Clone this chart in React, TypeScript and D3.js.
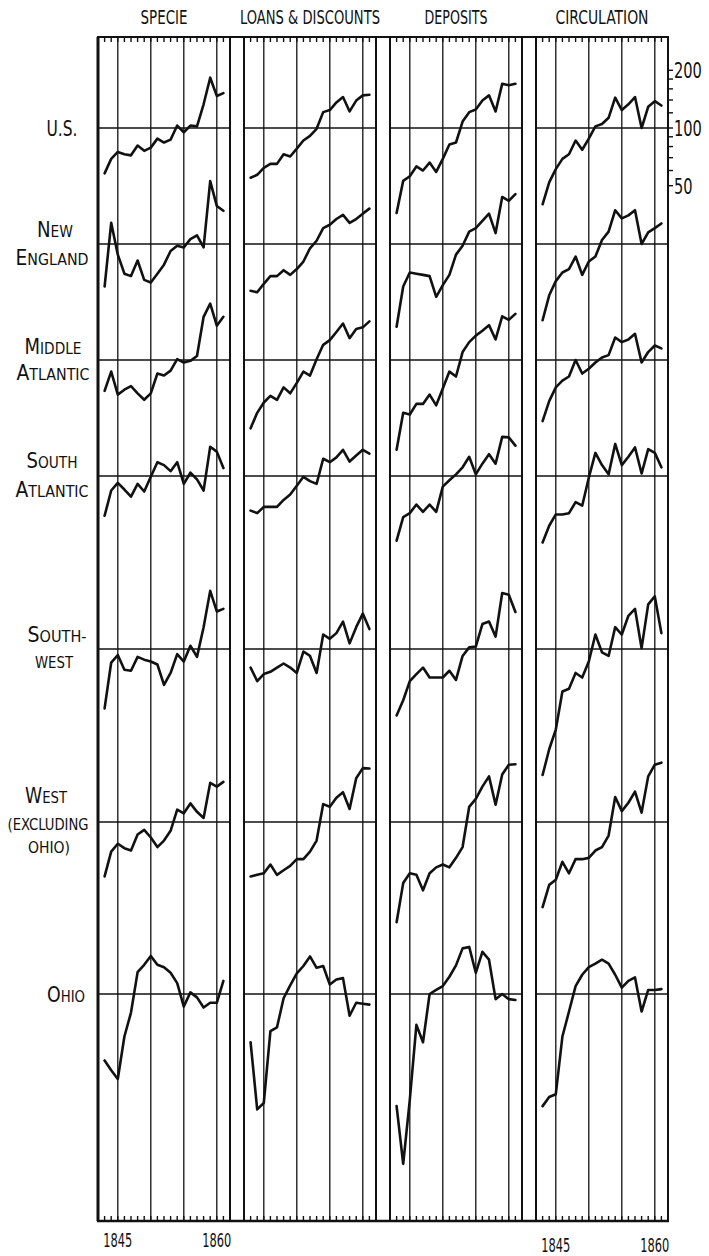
import React from "react";
import * as d3 from "d3";

// ---------- DATA ----------
const years = [1843, 1844, 1845, 1846, 1847, 1848, 1849, 1850, 1851, 1852, 1853, 1854, 1855, 1856, 1857, 1858, 1859, 1860, 1861];
const panelTitles = ["SPECIE", "LOANS & DISCOUNTS", "DEPOSITS", "CIRCULATION"];
const gridYears = [1845, 1850, 1855, 1860];
const axisTicks = [50, 60, 70, 80, 90, 100, 120, 140, 160, 180, 200];
const axisLabels = [200, 100, 50];
const yearLabels = ["1845", "1860"];

// Specie (index numbers, base 100)
const specieUS = [58, 69, 75, 73, 72, 81, 76, 79, 88, 84, 87, 103, 95, 103, 102, 133, 183, 147, 152];
const specieNE = [60, 129, 88, 70, 68, 82, 65, 63, 70, 78, 92, 98, 96, 106, 111, 96, 213, 158, 149];
const specieMA = [69, 87, 66, 70, 73, 67, 62, 67, 85, 83, 88, 101, 97, 99, 105, 168, 197, 151, 168];
const specieSA = [62, 84, 92, 85, 78, 91, 83, 99, 118, 114, 106, 118, 91, 104, 96, 84, 142, 134, 110];
const specieSW = [49, 85, 93, 78, 77, 91, 88, 86, 83, 65, 75, 94, 86, 104, 91, 130, 201, 157, 162];
const specieWest = [52, 70, 77, 73, 71, 86, 91, 83, 74, 80, 90, 116, 111, 125, 113, 105, 160, 153, 162];
const specieOhio = [45, 40, 36, 60, 80, 130, 142, 158, 142, 138, 129, 114, 86, 102, 96, 85, 90, 90, 117];

// Loans & discounts
const loansUS = [55, 57, 62, 65, 65, 73, 71, 78, 86, 91, 99, 121, 124, 136, 145, 122, 139, 148, 149];
const loansNE = [57, 56, 62, 68, 68, 73, 69, 74, 81, 95, 104, 121, 126, 135, 142, 129, 135, 144, 153];
const loansMA = [44, 53, 60, 65, 62, 72, 67, 76, 87, 83, 101, 120, 127, 140, 155, 130, 145, 148, 159];
const loansSA = [66, 64, 69, 69, 69, 75, 80, 89, 99, 94, 91, 123, 118, 125, 137, 119, 128, 137, 131];
const loansSW = [80, 68, 74, 76, 80, 84, 80, 75, 97, 92, 75, 119, 113, 121, 139, 107, 130, 153, 127];
const loansWest = [52, 53, 54, 60, 53, 56, 59, 64, 64, 70, 80, 124, 120, 134, 143, 117, 169, 191, 190];
const loansOhio = [56, 25, 27, 64, 67, 95, 111, 128, 140, 157, 137, 140, 112, 119, 121, 77, 90, 89, 88];

// Deposits
const depositsUS = [36, 53, 56, 63, 60, 66, 59, 69, 82, 84, 108, 121, 125, 139, 148, 122, 170, 167, 170];
const depositsNE = [37, 60, 71, 70, 69, 68, 53, 61, 69, 88, 98, 116, 121, 132, 144, 114, 176, 168, 182];
const depositsMA = [34, 53, 52, 59, 59, 66, 58, 71, 87, 82, 110, 124, 134, 142, 152, 128, 169, 162, 174];
const depositsSA = [46, 61, 64, 71, 65, 71, 65, 88, 95, 102, 111, 126, 102, 116, 130, 116, 160, 159, 144];
const depositsSW = [45, 54, 68, 74, 80, 71, 71, 71, 77, 69, 92, 102, 103, 135, 139, 116, 196, 192, 156];
const depositsWest = [30, 48, 54, 53, 44, 54, 58, 60, 58, 65, 74, 120, 132, 153, 173, 123, 177, 199, 200];
const depositsOhio = [26, 13, 28, 69, 56, 100, 105, 110, 123, 141, 173, 176, 129, 166, 151, 94, 100, 94, 93];

// Circulation
const circUS = [40, 52, 61, 69, 73, 86, 77, 88, 102, 105, 113, 144, 124, 133, 145, 100, 129, 138, 131];
const circNE = [40, 54, 64, 71, 74, 86, 69, 81, 86, 105, 116, 150, 136, 141, 150, 100, 115, 121, 128];
const circMA = [48, 61, 72, 78, 82, 100, 85, 90, 97, 103, 106, 131, 124, 128, 137, 97, 110, 119, 115];
const circSA = [45, 55, 63, 63, 64, 73, 70, 98, 132, 114, 102, 147, 114, 126, 141, 103, 138, 132, 111];
const circSW = [22, 30, 38, 60, 62, 75, 71, 86, 119, 96, 92, 130, 119, 149, 162, 101, 171, 188, 121];
const circWest = [36, 47, 50, 62, 54, 64, 64, 65, 71, 74, 85, 135, 114, 126, 144, 112, 173, 199, 204];
const circOhio = [26, 29, 30, 60, 81, 110, 126, 138, 144, 151, 144, 126, 108, 117, 122, 81, 105, 105, 106];

const panelSeries = [
  [specieUS, specieNE, specieMA, specieSA, specieSW, specieWest, specieOhio],
  [loansUS, loansNE, loansMA, loansSA, loansSW, loansWest, loansOhio],
  [depositsUS, depositsNE, depositsMA, depositsSA, depositsSW, depositsWest, depositsOhio],
  [circUS, circNE, circMA, circSA, circSW, circWest, circOhio],
];

// Row labels: each line is a list of [text, isLargeCapital]
const rowLabelLines: [string, boolean][][][] = [
  [[["U.S.", true]]],
  [[["N", true], ["EW", false]], [["E", true], ["NGLAND", false]]],
  [[["M", true], ["IDDLE", false]], [["A", true], ["TLANTIC", false]]],
  [[["S", true], ["OUTH", false]], [["A", true], ["TLANTIC", false]]],
  [[["S", true], ["OUTH-", false]], [["WEST", false]]],
  [[["W", true], ["EST", false]], [["(EXCLUDING", false]], [["OHIO)", false]]],
  [[["O", true], ["HIO", false]]],
];

// ---------- LAYOUT ----------
const FRAME_L = 98;
const PANEL_W = 132;
const GAP = 14;
const TOP = 37;
const BOTTOM = 1221;
const BASELINES = [128, 244, 360, 476, 649, 822, 994];
const PX_PER_DOUBLING = 57.7;
const FONT = "'DejaVu Sans Condensed', 'Liberation Sans Narrow', 'Liberation Sans', Arial, sans-serif";

// label layout [x center, baseline y, width] per line
const labelLayout = [
  [[62, 136, 31]],
  [[55, 237, 36], [52, 265, 73]],
  [[53, 354, 57], [53, 380, 73]],
  [[52, 468, 51], [52, 497, 73]],
  [[57, 642, 59], [54, 668, 38]],
  [[46, 803, 42], [48, 830, 81], [49, 853, 42]],
  [[66, 1002, 38]],
];
const titleWidths = [47, 140, 63, 93];

export default function App() {
  const lefts = panelTitles.map((_, i) => FRAME_L + i * (PANEL_W + GAP));
  const xScales = lefts.map((l) => d3.scaleLinear().domain([1842, 1862]).range([l, l + PANEL_W]));
  const yScales = BASELINES.map((b) =>
    d3.scaleLog().base(2).domain([100, 200]).range([b, b - PX_PER_DOUBLING])
  );
  const right = lefts[3] + PANEL_W;
  const tickYears = d3.range(1843, 1862);
  const yAxis = yScales[0];

  return (
    <svg
      width={709}
      height={1256}
      viewBox="0 0 709 1256"
      style={{ position: "absolute", left: 0, top: 0, background: "#fff" }}
    >
      <rect x={0} y={0} width={709} height={1256} fill="#fff" />
      {/* titles */}
      {panelTitles.map((t, i) => (
        <text
          key={t}
          x={lefts[i] + PANEL_W / 2}
          y={24}
          fontFamily={FONT}
          fontSize={19}
          textAnchor="middle"
          textLength={titleWidths[i]}
          lengthAdjust="spacingAndGlyphs"
          fill="#111"
        >
          {t}
        </text>
      ))}

      {/* frame top / bottom */}
      <line x1={FRAME_L - 1} x2={right + 1} y1={TOP} y2={TOP} stroke="#111" strokeWidth={2} />
      <line x1={FRAME_L - 1} x2={right + 1} y1={BOTTOM} y2={BOTTOM} stroke="#111" strokeWidth={2.6} />

      {lefts.map((l, pi) => {
        const xs = xScales[pi];
        const line = (r: number) =>
          d3
            .line<number>()
            .x((_, i) => xs(years[i]))
            .y((v) => yScales[r](v));
        return (
          <g key={pi}>
            {/* panel borders */}
            <line x1={l} x2={l} y1={TOP} y2={BOTTOM} stroke="#111" strokeWidth={pi === 0 ? 3 : 2} />
            <line x1={l + PANEL_W} x2={l + PANEL_W} y1={TOP} y2={BOTTOM} stroke="#111" strokeWidth={2} />
            {/* grid lines */}
            {gridYears.map((yr) => (
              <line key={yr} x1={xs(yr)} x2={xs(yr)} y1={TOP} y2={BOTTOM} stroke="#111" strokeWidth={1.3} />
            ))}
            {/* year ticks top & bottom */}
            {tickYears.map((yr) => (
              <g key={yr}>
                <line x1={xs(yr)} x2={xs(yr)} y1={TOP} y2={TOP + 5} stroke="#111" strokeWidth={1.4} />
                <line x1={xs(yr)} x2={xs(yr)} y1={BOTTOM} y2={BOTTOM - 5} stroke="#111" strokeWidth={1.4} />
              </g>
            ))}
            {/* baselines (100) */}
            {BASELINES.map((b, r) => (
              <line key={r} x1={l} x2={l + PANEL_W} y1={yScales[r](100)} y2={yScales[r](100)} stroke="#111" strokeWidth={1.6} />
            ))}
            {/* series */}
            {panelSeries[pi].map((s, r) => (
              <path
                key={r}
                d={line(r)(s) || ""}
                fill="none"
                stroke="#111"
                strokeWidth={2.6}
                strokeLinejoin="round"
                strokeLinecap="round"
              />
            ))}
          </g>
        );
      })}

      {/* right log axis */}
      {axisTicks.map((v) => (
        <line key={v} x1={right} x2={right + 5} y1={yAxis(v)} y2={yAxis(v)} stroke="#111" strokeWidth={1.4} />
      ))}
      {axisLabels.map((v) => (
        <g key={v} transform={`translate(${right + 6},${yAxis(v) + 8}) scale(0.74,1)`}>
          <text x={0} y={0} fontFamily={FONT} fontSize={22} fill="#111">
            {String(v)}
          </text>
        </g>
      ))}

      {/* year labels under Specie and Circulation */}
      {[0, 3].map((pi) =>
        yearLabels.map((t) => (
          <text
            key={pi + t}
            x={xScales[pi](+t)}
            y={pi === 0 ? 1247 : 1252}
            fontFamily={FONT}
            fontSize={19}
            textAnchor="middle"
            textLength={29}
            lengthAdjust="spacingAndGlyphs"
            fill="#111"
          >
            {t}
          </text>
        ))
      )}

      {/* row labels */}
      {rowLabelLines.map((lines, r) =>
        lines.map((parts, li) => {
          const [cx, by, w] = labelLayout[r][li];
          return (
            <text
              key={r + "-" + li}
              x={cx}
              y={by}
              fontFamily={FONT}
              textAnchor="middle"
              textLength={w}
              lengthAdjust="spacingAndGlyphs"
              fill="#111"
            >
              {parts.map(([t, big], k) => (
                <tspan key={k} fontSize={big ? 21 : 16}>
                  {t}
                </tspan>
              ))}
            </text>
          );
        })
      )}
    </svg>
  );
}
